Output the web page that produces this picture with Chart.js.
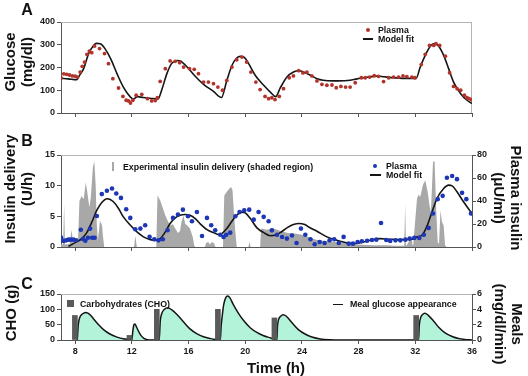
<!DOCTYPE html>
<html>
<head>
<meta charset="utf-8">
<script src="https://cdn.jsdelivr.net/npm/chart.js@4.4.1/dist/chart.umd.min.js"></script>
<style>
  html, body { margin: 0; padding: 0; background: #fff; }
  #wrap { position: relative; width: 528px; height: 376px; overflow: hidden; font-family: 'Liberation Sans', Arial, sans-serif; color: #111; }
  #wrap canvas { position: absolute; left: 0; }
  .txt { position: absolute; font-weight: bold; white-space: nowrap; z-index: 2; }
  .panel { font-size: 16px; line-height: 16px; transform: translate(-50%, -50%); }
  .ytl { font-size: 15px; line-height: 17px; text-align: center; transform: translate(-50%, -50%) rotate(-90deg); }
  .ytr { font-size: 15px; line-height: 17px; text-align: center; transform: translate(-50%, -50%) rotate(90deg); }
  .xt { font-size: 15px; line-height: 15px; transform: translate(-50%, -50%); }
  .leg { font-size: 8.8px; line-height: 10px; transform: translateY(-50%); }
  .mk { position: absolute; z-index: 2; }
</style>
</head>
<body>
<div id="wrap">
  <canvas id="glucoseChart" width="528" height="130" style="top:0px"></canvas>
  <canvas id="insulinChart" width="528" height="130" style="top:130px"></canvas>
  <canvas id="mealChart" width="528" height="116" style="top:260px"></canvas>

  <div class="txt panel" style="left:27px; top:10px">A</div>
  <div class="txt panel" style="left:27px; top:141px">B</div>
  <div class="txt panel" style="left:27px; top:284px">C</div>

  <div class="txt ytl" style="left:18px; top:62px">Glucose<br>(mg/dl)</div>
  <div class="txt ytl" style="left:18px; top:189px">Insulin delivery<br>(U/h)</div>
  <div class="txt ytl" style="left:10px; top:313px">CHO (g)</div>
  <div class="txt ytr" style="left:508px; top:198px">Plasma insulin<br>(&mu;U/ml)</div>
  <div class="txt ytr" style="left:509px; top:324px">Meals<br>(mg/dl/min)</div>
  <div class="txt xt" style="left:276px; top:367px">Time (h)</div>

  <span class="mk" style="left:366px; top:28px; width:4px; height:4px; border-radius:50%; background:#b3332b"></span>
  <div class="txt leg" style="left:378px; top:30px">Plasma</div>
  <span class="mk" style="left:363px; top:38px; width:10px; height:1.6px; background:#151515"></span>
  <div class="txt leg" style="left:378px; top:39px">Model fit</div>

  <span class="mk" style="left:112px; top:162px; width:2px; height:9px; background:#a8a8a8"></span>
  <div class="txt leg" style="left:123px; top:167px">Experimental insulin delivery (shaded region)</div>
  <span class="mk" style="left:372.7px; top:163.7px; width:4.6px; height:4.6px; border-radius:50%; background:#1c36b5"></span>
  <div class="txt leg" style="left:386px; top:166px">Plasma</div>
  <span class="mk" style="left:370px; top:174px; width:11px; height:1.6px; background:#151515"></span>
  <div class="txt leg" style="left:386px; top:175px">Model fit</div>

  <span class="mk" style="left:66.5px; top:300px; width:7px; height:7px; background:#5a5a5a"></span>
  <div class="txt leg" style="left:80px; top:304px">Carbohydrates (CHO)</div>
  <span class="mk" style="left:333px; top:303.5px; width:10px; height:1.6px; background:#151515"></span>
  <div class="txt leg" style="left:350px; top:304px">Meal glucose appearance</div>
</div>

<script>
// ---- Panel A: glucose ----
var glucoseTime = [7.0, 7.2, 7.4, 7.6, 7.8, 8.0, 8.15, 8.35, 8.5, 8.66, 8.83, 9.0, 9.17, 9.37, 9.72, 10.07, 10.35, 10.66, 11.06, 11.37, 11.6, 11.77, 11.9, 12.07, 12.3, 12.7, 13.1, 13.4, 13.65, 13.8, 14.0, 14.36, 14.7, 15.06, 15.37, 15.65, 16.07, 16.4, 16.7, 17.06, 17.4, 17.76, 18.07, 18.4, 18.7, 19.06, 19.4, 19.77, 20.1, 20.4, 20.75, 21.05, 21.4, 21.65, 21.88, 22.1, 22.4, 22.7, 23.1, 23.4, 23.77, 24.07, 24.35, 24.7, 25.06, 25.41, 25.76, 26.12, 26.42, 26.75, 27.08, 27.4, 27.76, 28.19, 28.47, 28.78, 29.1, 29.4, 29.76, 30.12, 30.47, 30.82, 31.13, 31.4, 31.76, 31.98, 32.42, 32.7, 33.0, 33.3, 33.46, 33.72, 34.12, 34.42, 34.7, 34.95, 35.2, 35.46, 35.65, 35.8, 35.95];
var glucosePlasma = [155, 172, 170, 167, 163, 162, 158, 180, 205, 224, 258, 272, 265, 294, 283, 261, 217, 151, 110, 73, 56, 53, 44, 56, 78, 82, 63, 53, 55, 67, 139, 195, 229, 227, 221, 202, 195, 192, 173, 136, 136, 129, 114, 100, 143, 202, 234, 246, 224, 180, 136, 103, 73, 63, 67, 59, 73, 107, 155, 163, 186, 176, 180, 163, 141, 126, 122, 123, 111, 117, 114, 114, 133, 155, 155, 158, 164, 161, 138, 155, 158, 158, 163, 160, 158, 155, 213, 258, 297, 297, 305, 297, 250, 177, 117, 107, 100, 78, 67, 63, 59];
var glucoseFitTime = [7.0, 7.5, 8.1, 8.35, 8.6, 8.95, 9.3, 9.5, 9.77, 10.1, 10.5, 10.95, 11.4, 11.9, 12.1, 12.4, 12.8, 13.4, 13.85, 14.1, 14.47, 14.8, 15.2, 15.42, 15.9, 16.4, 17.06, 17.76, 18.32, 18.7, 19.06, 19.4, 19.65, 19.9, 20.24, 20.7, 21.3, 21.77, 22.15, 22.47, 22.94, 23.4, 23.8, 24.1, 24.6, 25.06, 25.5, 26.2, 27.2, 27.9, 28.6, 29.3, 29.8, 30.5, 31.4, 32.05, 32.35, 32.7, 33.06, 33.34, 33.65, 34.0, 34.35, 34.7, 35.2, 35.65, 36.0];
var glucoseFit = [152, 150, 146, 170, 195, 261, 297, 306, 304, 283, 239, 173, 114, 70, 62, 72, 68, 64, 62, 100, 173, 217, 231, 229, 202, 166, 126, 95, 68, 143, 209, 242, 249, 246, 217, 166, 122, 92, 72, 110, 158, 180, 186, 180, 166, 151, 144, 141, 143, 150, 157, 162, 159, 155, 152, 152, 202, 253, 293, 305, 293, 253, 195, 136, 85, 56, 42];

// ---- Panel B: insulin ----
var deliveryTime = [7.0, 7.15, 7.22, 7.28, 7.6, 7.75, 7.85, 8.2, 8.3, 8.45, 8.6, 8.75, 8.85, 9.0, 9.1, 9.25, 9.35, 9.45, 9.52, 9.6, 9.75, 9.9, 9.95, 10.05, 12.15, 12.25, 12.35, 13.72, 13.81, 14.0, 14.19, 14.35, 14.5, 14.7, 14.9, 15.06, 15.25, 15.4, 15.5, 15.65, 15.76, 15.9, 16.1, 16.3, 16.4, 16.47, 17.15, 17.25, 17.4, 17.5, 17.65, 17.8, 17.9, 18.43, 18.52, 18.7, 18.87, 19.0, 19.1, 19.2, 19.3, 19.4, 20.22, 20.3, 20.38, 21.05, 21.12, 21.5, 22.0, 22.5, 23.0, 23.5, 24.0, 24.5, 25.0, 25.5, 26.0, 26.5, 27.0, 27.5, 28.0, 29.0, 30.0, 30.6, 31.22, 31.28, 31.34, 31.4, 31.75, 31.8, 31.85, 32.12, 32.23, 32.35, 32.54, 32.7, 32.87, 33.0, 33.1, 33.25, 33.36, 33.48, 33.58, 33.67, 33.78, 33.88, 34.0, 34.1, 34.2, 34.3];
var insulinDelivery = [0.4, 0.4, 7.0, 0.4, 0.5, 2.8, 0.7, 0.8, 7.5, 8.3, 7.8, 10.5, 9.0, 6.5, 8.0, 13.0, 14.0, 10.0, 4.0, 1.0, 4.3, 3.5, 2.0, 0, 0, 1.8, 0, 0, 8.4, 7.6, 6.3, 5.2, 4.4, 3.5, 3.7, 3.0, 2.3, 2.6, 4.1, 5.1, 3.8, 3.5, 3.0, 1.6, 0.3, 0, 0, 0.7, 0.8, 0.4, 0.8, 0.6, 0, 0, 8.4, 9.0, 9.5, 9.8, 9.3, 5.7, 2.5, 0, 0, 0.8, 0, 0, 3.0, 2.8, 3.0, 2.6, 2.3, 2.2, 2.0, 1.6, 1.2, 1.0, 0.9, 0.8, 0.7, 0.5, 0.4, 0.3, 0.3, 0.2, 0.2, 7.0, 0.3, 0.3, 1.8, 0.3, 0.3, 7.9, 8.5, 8.2, 10.1, 10.9, 9.0, 6.8, 5.7, 13.9, 14.0, 5.7, 0.8, 0.5, 6.0, 4.1, 3.5, 0.3, 0];
var insulinTime = [7.0, 7.18, 7.37, 7.53, 7.7, 7.88, 8.07, 8.4, 8.55, 8.72, 8.9, 9.05, 9.2, 9.37, 9.53, 9.88, 10.24, 10.6, 10.9, 11.23, 11.6, 11.89, 12.24, 12.6, 12.94, 13.25, 13.58, 13.88, 14.18, 14.52, 14.9, 15.25, 15.6, 15.96, 16.24, 16.59, 16.95, 17.3, 17.6, 17.88, 18.24, 18.47, 18.66, 18.94, 19.3, 19.6, 19.93, 20.28, 20.6, 20.94, 21.3, 21.65, 21.88, 22.24, 22.6, 22.94, 23.3, 23.62, 23.93, 24.24, 24.6, 24.9, 25.25, 25.6, 25.95, 26.28, 26.6, 26.94, 27.3, 27.6, 27.93, 28.23, 28.6, 28.94, 29.25, 29.58, 29.95, 30.23, 30.6, 30.94, 31.3, 31.6, 31.93, 32.28, 32.6, 32.94, 33.25, 33.58, 33.93, 34.23, 34.6, 34.94, 35.3, 35.6, 35.93];
var insulinPlasma = [8.2, 5.3, 5.8, 6.4, 6.4, 6.4, 5.8, 15, 7, 5.5, 8, 16, 8, 8, 27, 46, 48.9, 50.9, 46.5, 42.7, 32.8, 25.3, 15.4, 16, 18.9, 8.8, 6.7, 5.8, 6.7, 14.6, 25.3, 28.2, 32.5, 26.7, 22.4, 30.5, 9.6, 25.3, 18.9, 14.5, 10.7, 8.7, 10.7, 12.5, 26.7, 30.5, 32, 32.5, 23.8, 30.5, 26.2, 22.4, 14.5, 10.7, 8.7, 7.3, 10, 3.5, 16, 10.7, 6.7, 2.4, 4.4, 3.5, 5.8, 6.7, 3.5, 8.8, 2.9, 2.9, 4.4, 5, 5.5, 6.1, 6.4, 20.9, 6.1, 5.3, 5.8, 5.8, 6.4, 7.3, 7.9, 7.9, 10.7, 16.6, 29.1, 41.6, 44.5, 60.2, 61.7, 59, 47.1, 41.6, 29.1];
var insulinFitTime = [7.53, 8.0, 8.47, 8.82, 9.18, 9.53, 9.88, 10.24, 10.43, 10.7, 11.06, 11.4, 11.9, 12.36, 12.82, 13.3, 13.65, 14.0, 14.36, 14.7, 15.06, 15.4, 15.76, 16.1, 16.47, 16.8, 17.3, 17.76, 18.12, 18.35, 18.7, 19.06, 19.4, 19.77, 20.0, 20.36, 20.83, 21.3, 21.77, 22.1, 22.47, 22.94, 23.4, 23.8, 24.2, 24.6, 25.06, 25.76, 26.7, 27.65, 28.12, 28.82, 29.5, 30.23, 31.18, 31.76, 32.12, 32.47, 32.8, 33.18, 33.53, 34.0, 34.35, 34.6, 34.94, 35.4, 36.0];
var insulinFit = [0.5, 3.8, 7.3, 12.5, 21.8, 32, 38.7, 42, 41.6, 39.3, 33.5, 26.2, 18.9, 13.1, 8.8, 6.4, 5.8, 7.3, 13.1, 20.4, 25.3, 27.6, 28.2, 27.6, 24.7, 20.4, 15.1, 12.5, 10.8, 11.7, 16, 22.4, 27.6, 30.3, 29.7, 24.7, 16.6, 12.5, 9.8, 10.2, 12.5, 16.6, 19.5, 20.5, 19.5, 16.5, 13.7, 8.8, 5, 2.9, 3.8, 5.8, 7.3, 6.7, 6.4, 6.7, 8.8, 10.2, 17.5, 30.5, 42.2, 50.9, 53.8, 53.2, 48, 39.3, 29.1];

// ---- Panel C: meals ----
var choTime = [7.98, 11.83, 13.76, 18.07, 22.06, 32.06];
var choGrams = [80, 15, 100, 100, 72, 80];
var mealTime = [8.15, 8.22, 8.32, 8.45, 8.6, 8.75, 8.9, 9.1, 9.3, 9.65, 10.0, 10.45, 10.95, 11.4, 11.9, 12.0, 12.07, 12.15, 12.22, 12.35, 12.6, 12.85, 13.1, 13.4, 13.93, 14.0, 14.1, 14.3, 14.55, 14.8, 15.2, 15.65, 16.1, 16.6, 17.05, 17.55, 17.95, 18.24, 18.3, 18.38, 18.48, 18.62, 18.76, 18.92, 19.15, 19.5, 19.9, 20.35, 20.85, 21.3, 21.8, 22.23, 22.28, 22.36, 22.5, 22.68, 22.9, 23.3, 23.75, 24.25, 24.7, 25.3, 26.0, 26.6, 32.23, 32.28, 32.36, 32.5, 32.68, 32.9, 33.3, 33.65, 34.1, 34.6, 35.05, 35.5, 36.0];
var mealRate = [0, 2.0, 2.9, 3.3, 3.5, 3.6, 3.5, 3.2, 2.75, 2.0, 1.35, 0.78, 0.38, 0.15, 0.04, 0, 1.2, 2.0, 2.1, 1.6, 0.7, 0.22, 0.03, 0, 0, 2.4, 3.4, 4.0, 4.2, 3.95, 3.3, 2.35, 1.45, 0.8, 0.42, 0.18, 0.05, 0, 1.8, 3.2, 4.6, 5.5, 5.75, 5.5, 4.65, 3.55, 2.5, 1.6, 0.95, 0.55, 0.27, 0, 1.9, 2.7, 3.1, 3.3, 3.1, 2.25, 1.35, 0.75, 0.4, 0.14, 0.03, 0, 0, 1.9, 2.8, 3.3, 3.5, 3.25, 2.45, 1.65, 0.92, 0.45, 0.19, 0.07, 0.01];

Chart.defaults.font.family = "'Liberation Sans', Arial, sans-serif";
Chart.defaults.font.weight = 'bold';
Chart.defaults.color = '#1a1a1a';

function pts(xs, ys) {
    return xs.map(function(x, i) { return { x: x, y: ys[i] }; });
}

// thin gray box lines on top / right of the plot area
var framePlugin = {
    id: 'frame',
    beforeDatasetsDraw: function(chart, args, opts) {
        var ctx = chart.ctx, a = chart.chartArea;
        ctx.save();
        ctx.strokeStyle = '#b4b4b4';
        ctx.lineWidth = 1;
        ctx.beginPath();
        if (opts.top) { ctx.moveTo(a.left, a.top + 0.5); ctx.lineTo(a.right, a.top + 0.5); }
        if (opts.right) { ctx.moveTo(a.right - 0.5, a.top); ctx.lineTo(a.right - 0.5, a.bottom); }
        ctx.stroke();
        ctx.restore();
    }
};

function timeAxis(showLabels, height) {
    return {
        type: 'linear', min: 7, max: 36, offset: false,
        border: { color: '#555', width: 1 },
        grid: { drawOnChartArea: false, tickLength: 4, color: '#555', offset: false },
        ticks: {
            stepSize: 4, includeBounds: false, autoSkip: false, maxRotation: 0, padding: 2,
            font: { size: 9, weight: 'bold' },
            callback: function(v) { return showLabels ? v : ''; }
        },
        afterFit: function(scale) { scale.height = height; }
    };
}

function valueAxis(position, max, step, width, labelFn) {
    return {
        type: 'linear', position: position, min: 0, max: max,
        border: { color: '#555', width: 1 },
        grid: { drawOnChartArea: false, tickLength: 4, color: '#555' },
        ticks: {
            stepSize: step, padding: position === 'left' ? 2 : 1,
            font: { size: 9, weight: 'bold' },
            callback: labelFn || function(v) { return v; }
        },
        afterFit: function(scale) { scale.width = width; }
    };
}

var baseOptions = {
    responsive: false,
    animation: false,
    events: [],
    plugins: { legend: { display: false }, tooltip: { enabled: false } }
};

new Chart(document.getElementById('glucoseChart'), {
    type: 'line',
    data: {
        datasets: [{
            label: 'Plasma',
            data: pts(glucoseTime, glucosePlasma),
            showLine: false,
            pointRadius: 1.9,
            pointBorderWidth: 0,
            pointBackgroundColor: '#b3332b',
            order: 1
        }, {
            label: 'Model fit',
            data: pts(glucoseFitTime, glucoseFit),
            borderColor: '#151515',
            borderWidth: 1.6,
            pointRadius: 0,
            cubicInterpolationMode: 'monotone',
            order: 2
        }]
    },
    options: Object.assign({}, baseOptions, {
        layout: { padding: { top: 22, right: 56, bottom: 0, left: 0 } },
        plugins: Object.assign({}, baseOptions.plugins, { frame: { top: true, right: true } }),
        scales: {
            x: timeAxis(false, 17),
            y: valueAxis('left', 400, 50, 61, function(v) { return v % 100 === 0 ? v : ''; })
        }
    }),
    plugins: [framePlugin]
});

new Chart(document.getElementById('insulinChart'), {
    type: 'line',
    data: {
        datasets: [{
            label: 'Plasma',
            data: pts(insulinTime, insulinPlasma),
            yAxisID: 'y2',
            showLine: false,
            pointRadius: 2.3,
            pointBorderWidth: 0,
            pointBackgroundColor: '#1c36b5',
            order: 1
        }, {
            label: 'Model fit',
            data: pts(insulinFitTime, insulinFit),
            yAxisID: 'y2',
            borderColor: '#151515',
            borderWidth: 1.6,
            pointRadius: 0,
            cubicInterpolationMode: 'monotone',
            order: 2
        }, {
            label: 'Experimental insulin delivery',
            data: pts(deliveryTime, insulinDelivery),
            yAxisID: 'y',
            borderWidth: 0,
            pointRadius: 0,
            fill: 'origin',
            backgroundColor: '#a8a8a8',
            order: 3
        }]
    },
    options: Object.assign({}, baseOptions, {
        layout: { padding: { top: 25, right: 0, bottom: 0, left: 0 } },
        plugins: Object.assign({}, baseOptions.plugins, { frame: { top: true } }),
        scales: {
            x: timeAxis(false, 13),
            y: valueAxis('left', 15, 5, 61),
            y2: valueAxis('right', 80, 20, 56)
        }
    }),
    plugins: [framePlugin]
});

new Chart(document.getElementById('mealChart'), {
    type: 'line',
    data: {
        datasets: [{
            type: 'bar',
            label: 'Carbohydrates (CHO)',
            data: pts(choTime, choGrams),
            yAxisID: 'y',
            backgroundColor: '#5a5a5a',
            barThickness: 5,
            order: 1
        }, {
            label: 'Meal glucose appearance',
            data: pts(mealTime, mealRate),
            yAxisID: 'y2',
            borderColor: '#151515',
            borderWidth: 1.5,
            pointRadius: 0,
            fill: 'origin',
            backgroundColor: '#b3f3da',
            cubicInterpolationMode: 'monotone',
            order: 2
        }]
    },
    options: Object.assign({}, baseOptions, {
        layout: { padding: { top: 34, right: 0, bottom: 0, left: 0 } },
        plugins: Object.assign({}, baseOptions.plugins, { frame: { top: true } }),
        scales: {
            x: timeAxis(true, 36),
            y: valueAxis('left', 150, 50, 61),
            y2: valueAxis('right', 6, 2, 56)
        }
    }),
    plugins: [framePlugin]
});
</script>
</body>
</html>
